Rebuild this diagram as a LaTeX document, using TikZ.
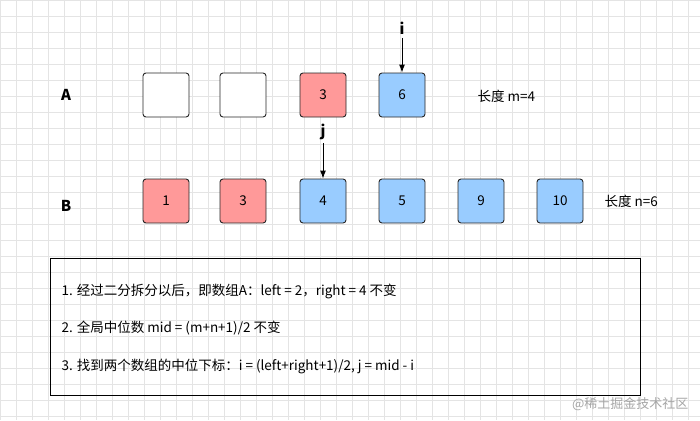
\documentclass[tikz,border=0pt]{standalone}
\usepackage{fontspec}
\setmainfont{Noto Sans CJK SC}
\usetikzlibrary{arrows.meta}
\definecolor{redf}{HTML}{FF9999}
\definecolor{bluef}{HTML}{99CCFF}
\definecolor{gridc}{HTML}{E4E4E4}
\begin{document}
\begin{tikzpicture}[x=1pt,y=-1pt,
  cell/.style={draw=black!85,line width=0.9pt,rounded corners=3pt,minimum width=46pt,minimum height=44pt,font=\fontsize{13.5}{15}\selectfont},
  lbl/.style={font=\bfseries\fontsize{15}{17}\selectfont},
  txt/.style={font=\fontsize{13.5}{15}\selectfont,anchor=west},
  ptr/.style={-{Latex[length=8pt,width=6pt]},line width=0.9pt}]
\useasboundingbox (0,0) rectangle (700,420);
\fill[white] (0,0) rectangle (700,420);
\draw[gridc,line width=0.6pt] (0,0) grid[step=16pt] (700,420);
\node[lbl] (A) at (66,95) {A};
\node[lbl] (B) at (66,206) {B};
\node[cell,fill=white] (a1) at (166,95) {};
\node[cell,fill=white] (a2) at (243,95) {};
\node[cell,fill=redf] (a3) at (323,95) {3};
\node[cell,fill=bluef] (a4) at (402,95) {6};
\node[txt] (ma) at (474,96) {长度 m=4};
\node[cell,fill=redf] (b1) at (166,201) {1};
\node[cell,fill=redf] (b2) at (243,201) {3};
\node[cell,fill=bluef] (b3) at (323,201) {4};
\node[cell,fill=bluef] (b4) at (402,201) {5};
\node[cell,fill=bluef] (b5) at (481,201) {9};
\node[cell,fill=bluef] (b6) at (560,201) {10};
\node[txt] (nb) at (601,201) {长度 n=6};
\node[lbl] (i) at (402,28) {i};
\node[lbl] (j) at (323,132) {j};
\draw[ptr] (i.south) -- (a4.north);
\draw[ptr] (j.south) -- (b3.north);
\node[draw=black,line width=1pt,minimum width=590pt,minimum height=137pt] (box) at (345,326.5) {};
\node[txt] (t1) at (58,291) {1. 经过二分拆分以后，即数组A：left = 2，right = 4 不变};
\node[txt] (t2) at (58,328) {2. 全局中位数 mid = (m+n+1)/2 不变};
\node[txt] (t3) at (58,366) {3. 找到两个数组的中位下标：i = (left+right+1)/2, j = mid - i};
\node[anchor=east,text=black!35,font=\fontsize{13}{15}\selectfont] (wm) at (692,404) {@稀土掘金技术社区};
\end{tikzpicture}
\end{document}
